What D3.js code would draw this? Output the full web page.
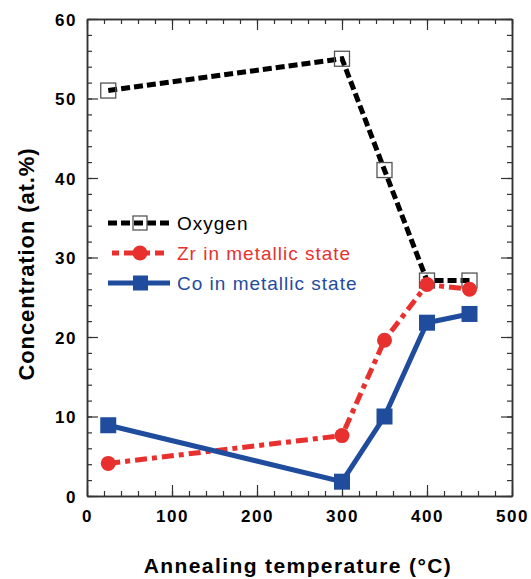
<!DOCTYPE html>
<html>
<head>
<meta charset="utf-8">
<script src="https://cdn.jsdelivr.net/npm/d3@7"></script>
<style>
  html, body { margin: 0; padding: 0; background: #fff; }
  svg { display: block; }
  text { font-family: "Liberation Sans", Arial, sans-serif; }
</style>
</head>
<body>
<svg id="chart" width="531" height="579"></svg>
<script>
const temperatures = [25, 300, 350, 400, 450];
const oxygen = [51, 55, 41, 27.1, 27.1];
const zrMetallic = [4.1, 7.6, 19.6, 26.6, 26];
const coMetallic = [8.9, 1.8, 10, 21.8, 22.9];
const xTicks = [0, 100, 200, 300, 400, 500];
const yTicks = [0, 10, 20, 30, 40, 50, 60];
const seriesNames = ["Oxygen", "Zr in metallic state", "Co in metallic state"];

const svg = d3.select("#chart");
const x = d3.scaleLinear().domain([0, 500]).range([87, 512]);
const y = d3.scaleLinear().domain([0, 60]).range([496, 19]);

const axisColor = "#333";
const black = "#000", red = "#e8312f", blue = "#1f4c9c";

const xMinor = d3.range(0, 501, 20);
const yMinor = d3.range(0, 61, 2);

function drawAxis(axis, transform, tickSize, vals, labels) {
  const g = svg.append("g").attr("transform", transform)
    .call(axis.tickValues(vals).tickSize(tickSize).tickSizeOuter(0).tickFormat(labels ? d3.format("d") : ""));
  g.select(".domain").attr("stroke", axisColor).attr("stroke-width", 1.5);
  g.selectAll(".tick line").attr("stroke", axisColor).attr("stroke-width", 1.2);
  return g;
}
// bottom
drawAxis(d3.axisBottom(x), `translate(0,${y(0)})`, -5, xMinor, false);
const gx = drawAxis(d3.axisBottom(x), `translate(0,${y(0)})`, -11, xTicks, true);
gx.selectAll(".tick text").attr("y", 14).attr("dy", "0.71em")
  .attr("font-size", 17).attr("font-weight", "bold").attr("fill", "#000")
  .style("letter-spacing", "1.5px");
// top
drawAxis(d3.axisTop(x), `translate(0,${y(60)})`, -5, xMinor, false);
drawAxis(d3.axisTop(x), `translate(0,${y(60)})`, -11, xTicks, false);
// left
drawAxis(d3.axisLeft(y), `translate(${x(0)},0)`, -5, yMinor, false);
const gy = drawAxis(d3.axisLeft(y), `translate(${x(0)},0)`, -11, yTicks, true);
gy.selectAll(".tick text").attr("x", -10).attr("dy", "0.36em")
  .attr("font-size", 17).attr("font-weight", "bold").attr("fill", "#000")
  .style("letter-spacing", "1.5px");
// right
drawAxis(d3.axisRight(y), `translate(${x(500)},0)`, -5, yMinor, false);
drawAxis(d3.axisRight(y), `translate(${x(500)},0)`, -11, yTicks, false);

// Axis titles
svg.append("text").attr("x", 298).attr("y", 573).attr("text-anchor", "middle")
  .attr("font-size", 21).attr("font-weight", "bold").style("letter-spacing", "1.4px")
  .text("Annealing temperature (°C)");
svg.append("text").attr("transform", "translate(34,264) rotate(-90)").attr("text-anchor", "middle")
  .attr("font-size", 22).attr("font-weight", "bold").style("letter-spacing", "0.9px")
  .text("Concentration (at.%)");

const line = d3.line().x(d => x(d[0])).y(d => y(d[1]));
const zip = vals => temperatures.map((t, i) => [t, vals[i]]);

// Oxygen
svg.append("path").datum(zip(oxygen)).attr("d", line)
  .attr("fill", "none").attr("stroke", black).attr("stroke-width", 5)
  .attr("stroke-dasharray", "9,4");
svg.append("g").selectAll("rect").data(zip(oxygen)).join("rect")
  .attr("x", d => x(d[0]) - 7.5).attr("y", d => y(d[1]) - 7.5)
  .attr("width", 15).attr("height", 15)
  .attr("fill", "none").attr("stroke", "#555").attr("stroke-width", 1.3);

// Zr
svg.append("path").datum(zip(zrMetallic)).attr("d", line)
  .attr("fill", "none").attr("stroke", red).attr("stroke-width", 5)
  .attr("stroke-dasharray", "12,5,5,5");
svg.append("g").selectAll("circle").data(zip(zrMetallic)).join("circle")
  .attr("cx", d => x(d[0])).attr("cy", d => y(d[1])).attr("r", 7.5)
  .attr("fill", red);

// Co
svg.append("path").datum(zip(coMetallic)).attr("d", line)
  .attr("fill", "none").attr("stroke", blue).attr("stroke-width", 5);
svg.append("g").selectAll("rect").data(zip(coMetallic)).join("rect")
  .attr("x", d => x(d[0]) - 8).attr("y", d => y(d[1]) - 8)
  .attr("width", 16).attr("height", 16)
  .attr("fill", blue);

// Legend
const legendY = [223, 253, 283];
const lg = svg.append("g");
lg.append("line").attr("x1", 108).attr("x2", 170).attr("y1", legendY[0]).attr("y2", legendY[0])
  .attr("stroke", black).attr("stroke-width", 5).attr("stroke-dasharray", "9,4");
lg.append("rect").attr("x", 133).attr("y", legendY[0] - 7).attr("width", 14).attr("height", 14)
  .attr("fill", "none").attr("stroke", "#555").attr("stroke-width", 1.3);
lg.append("line").attr("x1", 112).attr("x2", 164).attr("y1", legendY[1]).attr("y2", legendY[1])
  .attr("stroke", red).attr("stroke-width", 5).attr("stroke-dasharray", "7,5,14,5");
lg.append("circle").attr("cx", 140).attr("cy", legendY[1]).attr("r", 7.5).attr("fill", red);
lg.append("line").attr("x1", 108).attr("x2", 170).attr("y1", legendY[2]).attr("y2", legendY[2])
  .attr("stroke", blue).attr("stroke-width", 5);
lg.append("rect").attr("x", 133).attr("y", legendY[2] - 7.5).attr("width", 15).attr("height", 15).attr("fill", blue);

const legendColors = [black, red, blue];
lg.selectAll("text.leg").data(seriesNames).join("text").attr("class", "leg")
  .attr("x", 177).attr("y", (d, i) => legendY[i]).attr("dy", "0.36em")
  .attr("font-size", 19).style("letter-spacing", "1px")
  .attr("fill", (d, i) => legendColors[i])
  .text(d => d);
</script>
</body>
</html>
